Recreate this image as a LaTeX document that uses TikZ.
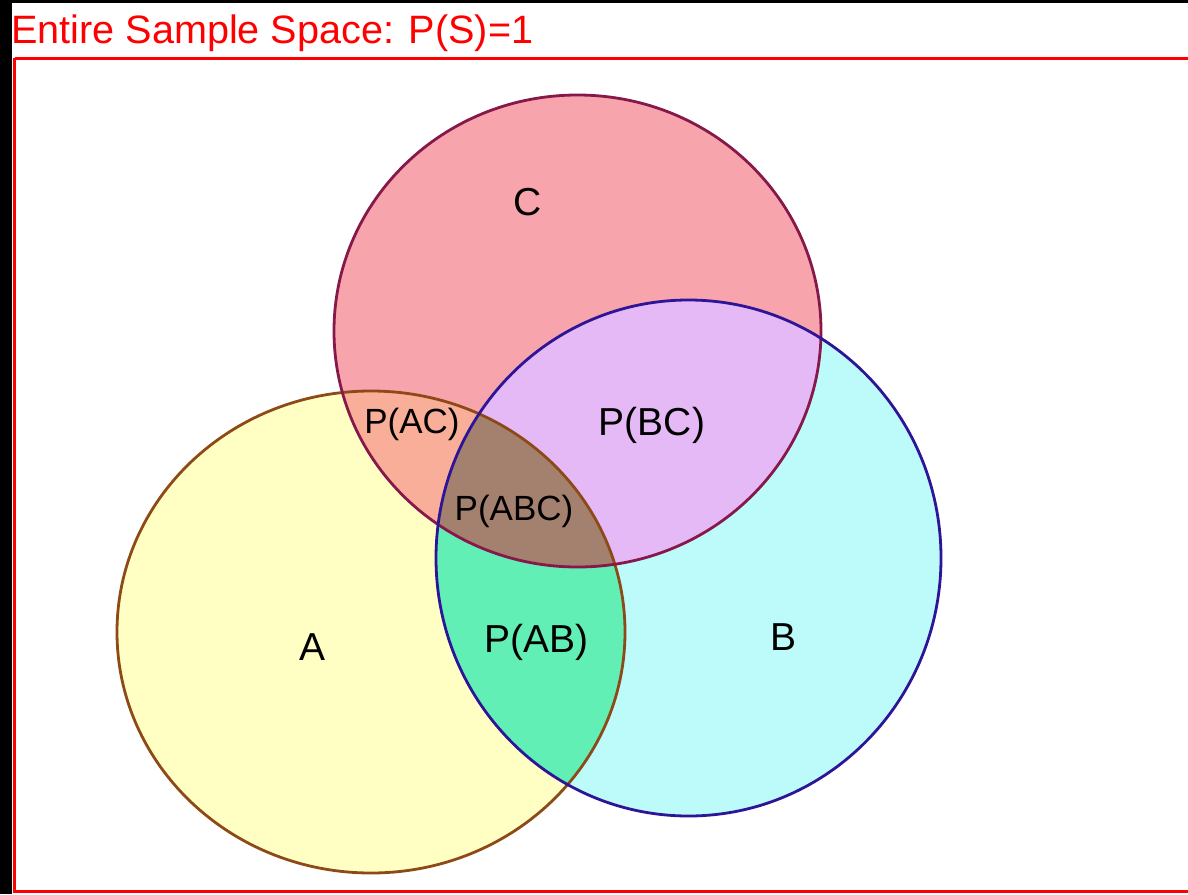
\documentclass[tikz,border=0pt]{standalone}
\usepackage{fontspec}
\setmainfont{Liberation Sans}
\begin{document}
\begin{tikzpicture}[x=1pt,y=-1pt,
  lbl/.style={inner sep=0pt, anchor=base, font=\fontsize{39}{39}\selectfont, text=black},
  smalllbl/.style={lbl, font=\fontsize{35}{35}\selectfont},
  outline/.style={line width=2.8pt}]
\definecolor{fillA}{HTML}{FFFFC4}
\definecolor{fillB}{HTML}{BDFBFB}
\definecolor{fillC}{HTML}{F7A4AC}
\definecolor{fillAC}{HTML}{F8AE98}
\definecolor{fillBC}{HTML}{E5B8F6}
\definecolor{fillAB}{HTML}{62EFB6}
\definecolor{fillABC}{HTML}{A4806E}
\definecolor{lineA}{HTML}{8E4A16}
\definecolor{lineB}{HTML}{2E1598}
\definecolor{lineC}{HTML}{86184A}
% canvas
\useasboundingbox (0,0) rectangle (1188,894);
\fill[white] (0,0) rectangle (1188,894);
\fill[black] (0,0) rectangle (1188,3);
\fill[black] (0,0) rectangle (12,894);
% sample space frame
\draw[red, line width=3pt] (14.5,58) -- (1200,58) (14.5,58) -- (14.5,891) -- (1200,891);
\node[inner sep=0pt, anchor=base west, text=red, font=\fontsize{39.6}{40}\selectfont] (title) at (11,43) {Entire Sample Space: P(S)=1};
% event regions
\def\evA{(371,632) ellipse [x radius=254, y radius=241]}
\def\evB{(688.5,558) ellipse [x radius=252.5, y radius=258]}
\def\evC{(577.5,331) ellipse [x radius=243.5, y radius=236]}
\fill[fillA] \evA;
\fill[fillB] \evB;
\fill[fillC] \evC;
\begin{scope}
  \clip \evA; \fill[fillAB] \evB; \fill[fillAC] \evC;
\end{scope}
\begin{scope}
  \clip \evB; \fill[fillBC] \evC;
\end{scope}
\begin{scope}
  \clip \evA; \clip \evB; \fill[fillABC] \evC;
\end{scope}
\draw[outline, lineA] \evA;
\draw[outline, lineC] \evC;
\draw[outline, lineB] \evB;
% labels
\node[lbl] (labC) at (528,215) {C};
\node[smalllbl] (labAC) at (412,433) {P(AC)};
\node[lbl] (labBC) at (652,435) {P(BC)};
\node[smalllbl] (labABC) at (514,520) {P(ABC)};
\node[lbl] (labAB) at (536,652) {P(AB)};
\node[lbl] (labA) at (313,660) {A};
\node[lbl] (labB) at (783,650) {B};
\end{tikzpicture}
\end{document}
